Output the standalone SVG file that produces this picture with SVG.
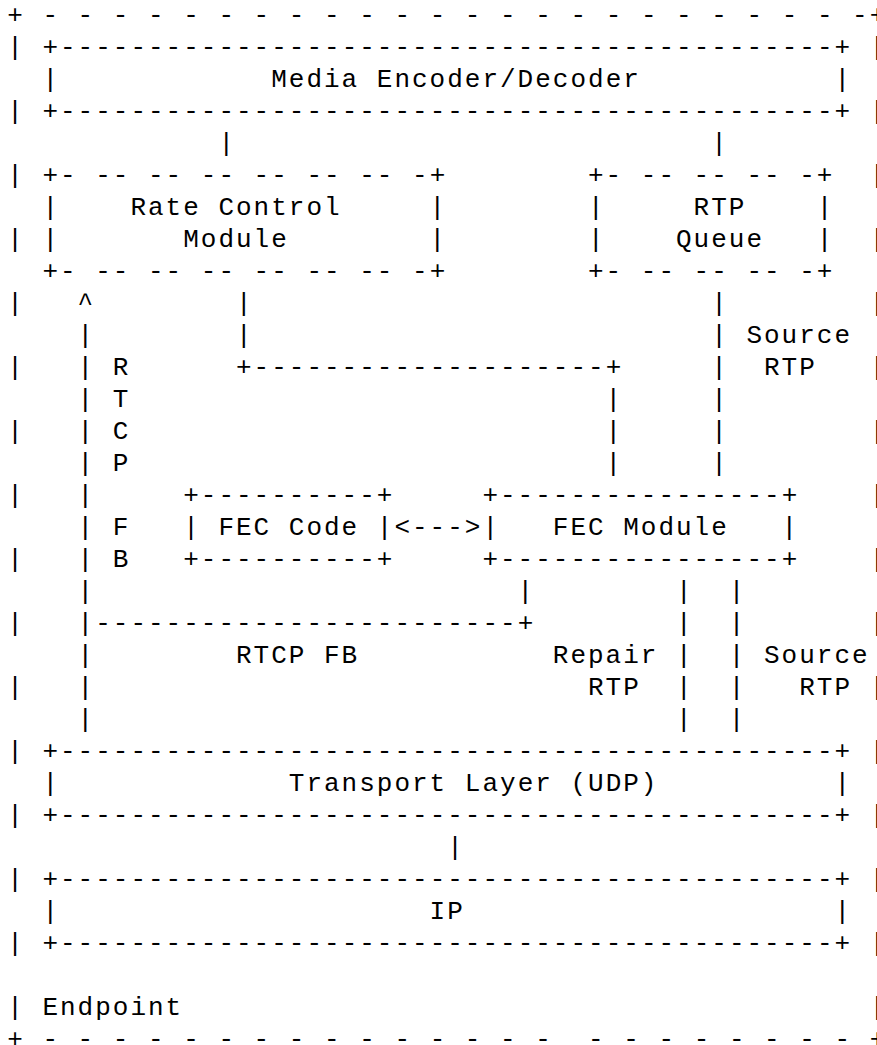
<svg xmlns="http://www.w3.org/2000/svg" width="877" height="1045" viewBox="0 0 877 1045" xml:space="preserve">
<style>
.t text{font-family:"Liberation Mono","Courier New",monospace;font-size:26px;letter-spacing:2px;fill:#000;white-space:pre}
</style>
<rect width="877" height="1045" fill="#fff"/>
<g id="endpoint" class="t">
<text x="7.2" y="23">+ - - - - - - - - - - - - - - - - - - - - - - - -+</text>
<text x="7.2 7.2 7.2 7.2 7.2 7.2 7.2 7.2 7.2 7.2 7.2 7.2 7.2 7.2 7.2 7.2" y="55 119 183 247 311 375 439 503 567 631 695 759 823 887 951 1015">||||||||||||||||</text>
<text x="869.6 869.6 869.6 869.6 869.6 869.6 869.6 869.6 869.6 869.6 869.6 869.6 869.6 869.6 869.6 869.6" y="55 119 183 247 311 375 439 503 567 631 695 759 823 887 951 1015">||||||||||||||||</text>
<text x="42.4" y="1015">Endpoint</text>
<text x="7.2" y="1047">+ - - - - - - - - - - - - - - -  - - - - - - - - +</text>
</g>
<g id="media-encoder-decoder" class="t">
<text x="42.4" y="55">+--------------------------------------------+</text>
<text x="42.4" y="87">|</text>
<text x="834.4" y="87">|</text>
<text x="271.2" y="87">Media Encoder/Decoder</text>
<text x="42.4" y="119">+--------------------------------------------+</text>
</g>
<g id="rate-control-module" class="t">
<text x="42.4" y="183">+- -- -- -- -- -- -- -+</text>
<text x="42.4 42.4" y="215 247">||</text>
<text x="429.6 429.6" y="215 247">||</text>
<text x="130.4" y="215">Rate Control</text>
<text x="183.2" y="247">Module</text>
<text x="42.4" y="279">+- -- -- -- -- -- -- -+</text>
</g>
<g id="rtp-queue" class="t">
<text x="588" y="183">+- -- -- -- -+</text>
<text x="588 588" y="215 247">||</text>
<text x="816.8 816.8" y="215 247">||</text>
<text x="693.6" y="215">RTP</text>
<text x="676" y="247">Queue</text>
<text x="588" y="279">+- -- -- -- -+</text>
</g>
<g id="fec-code" class="t">
<text x="183.2" y="503">+----------+</text>
<text x="183.2" y="535">|</text>
<text x="376.8" y="535">|</text>
<text x="218.4" y="535">FEC Code</text>
<text x="183.2" y="567">+----------+</text>
</g>
<g id="fec-module" class="t">
<text x="482.4" y="503">+----------------+</text>
<text x="482.4" y="535">|</text>
<text x="781.6" y="535">|</text>
<text x="552.8" y="535">FEC Module</text>
<text x="482.4" y="567">+----------------+</text>
</g>
<g id="transport-layer" class="t">
<text x="42.4" y="759">+--------------------------------------------+</text>
<text x="42.4" y="791">|</text>
<text x="834.4" y="791">|</text>
<text x="288.8" y="791">Transport Layer (UDP)</text>
<text x="42.4" y="823">+--------------------------------------------+</text>
</g>
<g id="ip" class="t">
<text x="42.4" y="887">+--------------------------------------------+</text>
<text x="42.4" y="919">|</text>
<text x="834.4" y="919">|</text>
<text x="429.6" y="919">IP</text>
<text x="42.4" y="951">+--------------------------------------------+</text>
</g>
<g id="connectors" class="t">
<text x="218.4" y="151">|</text>
<text x="711.2" y="151">|</text>
<text x="236 236" y="311 343">||</text>
<text x="236" y="375">+--------------------+</text>
<text x="605.6 605.6 605.6" y="407 439 471">|||</text>
<text x="711.2 711.2 711.2 711.2 711.2 711.2" y="311 343 375 407 439 471">||||||</text>
<text x="746.4" y="343">Source</text>
<text x="764" y="375">RTP</text>
<text x="77.6" y="311">^</text>
<text x="77.6 77.6 77.6 77.6 77.6 77.6 77.6 77.6 77.6 77.6 77.6 77.6" y="343 375 407 439 471 503 535 567 599 663 695 727">||||||||||||</text>
<text x="77.6" y="631">|------------------------+</text>
<text x="517.6" y="599">|</text>
<text x="112.8 112.8 112.8 112.8 112.8 112.8" y="375 407 439 471 535 567">RTCPFB</text>
<text x="394.4" y="535">&lt;---&gt;</text>
<text x="236" y="663">RTCP FB</text>
<text x="676 676 676 676 676" y="599 631 663 695 727">|||||</text>
<text x="728.8 728.8 728.8 728.8 728.8" y="599 631 663 695 727">|||||</text>
<text x="552.8" y="663">Repair</text>
<text x="588" y="695">RTP</text>
<text x="764" y="663">Source</text>
<text x="799.2" y="695">RTP</text>
<text x="447.2" y="855">|</text>
</g>
</svg>
